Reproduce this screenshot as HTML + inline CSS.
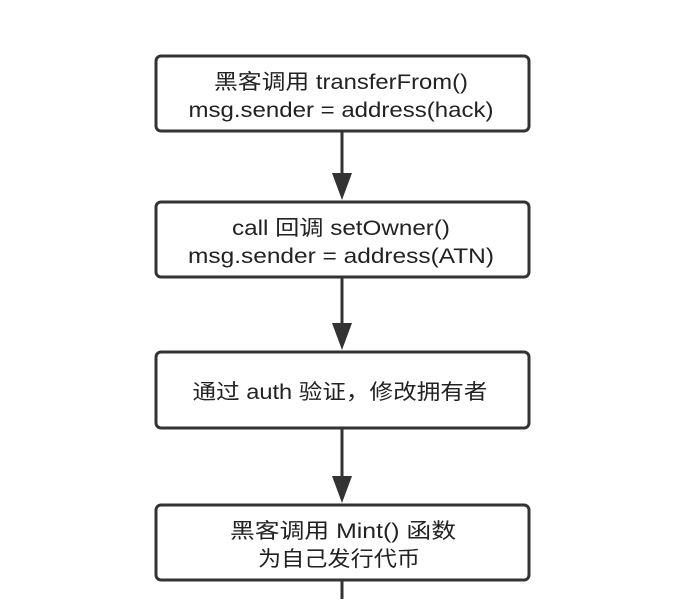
<!DOCTYPE html>
<html><head><meta charset="utf-8"><style>
body{margin:0;background:#fff;width:674px;height:599px;overflow:hidden}
svg text{font-family:"Liberation Sans","Noto Sans CJK SC",sans-serif;font-size:21px;fill:#222;text-anchor:middle}
</style></head><body>
<svg width="674" height="599" viewBox="0 0 674 599">
<g fill="#fff" stroke="#333" stroke-width="3">
<rect x="156" y="56" width="373" height="75" rx="5"/>
<rect x="156" y="202" width="373" height="75" rx="5"/>
<rect x="156" y="352" width="373" height="76" rx="5"/>
<rect x="156" y="505" width="373" height="75" rx="5"/>
</g>
<g stroke="#333" stroke-width="3">
<line x1="342" y1="132" x2="342" y2="176"/>
<line x1="342" y1="278" x2="342" y2="326"/>
<line x1="342" y1="429" x2="342" y2="479"/>
<line x1="342" y1="581" x2="342" y2="599"/>
</g>
<g fill="#333">
<polygon points="332,173 352,173 342,200"/>
<polygon points="332,323 352,323 342,350"/>
<polygon points="332,476 352,476 342,503"/>
</g>
<text x="341" y="89" textLength="254" lengthAdjust="spacingAndGlyphs">黑客调用 transferFrom()</text>
<text x="341" y="117" textLength="305" lengthAdjust="spacingAndGlyphs">msg.sender = address(hack)</text>
<text x="341" y="235" textLength="218" lengthAdjust="spacingAndGlyphs">call 回调 setOwner()</text>
<text x="341" y="263" textLength="306" lengthAdjust="spacingAndGlyphs">msg.sender = address(ATN)</text>
<text x="340" y="399" textLength="295" lengthAdjust="spacingAndGlyphs">通过 auth 验证，修改拥有者</text>
<text x="343" y="538" textLength="226" lengthAdjust="spacingAndGlyphs">黑客调用 Mint() 函数</text>
<text x="339" y="566" textLength="162" lengthAdjust="spacingAndGlyphs">为自己发行代币</text>
</svg>
</body></html>
